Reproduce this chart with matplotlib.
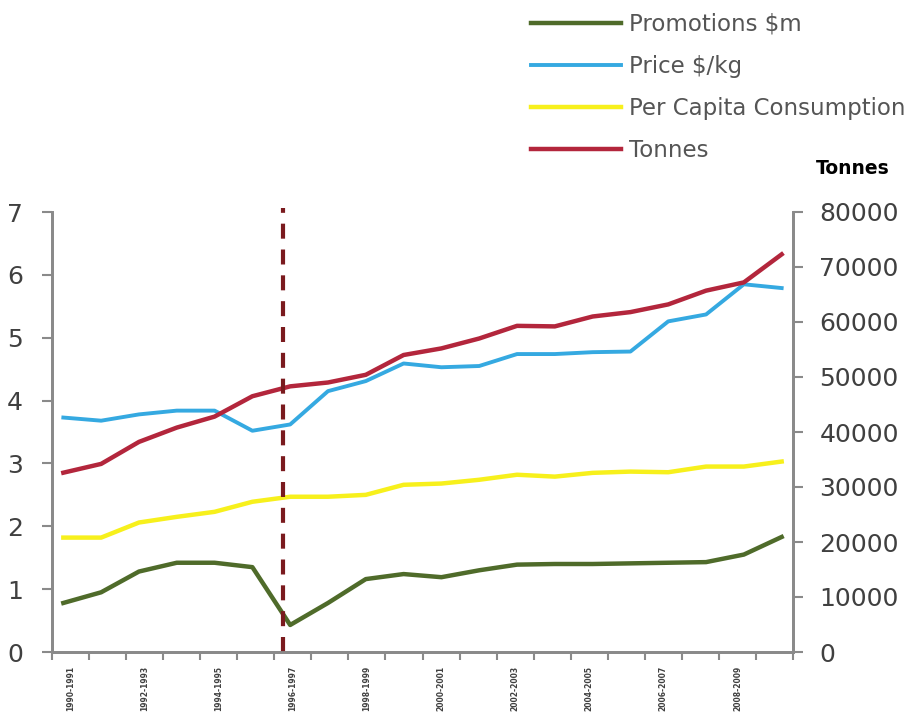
import numpy as np
import matplotlib
matplotlib.use("Agg")
import matplotlib.pyplot as plt

plt.rcParams['font.family'] = ['DejaVu Sans']

# season labels (every second season is labelled on the axis)
seasons = ["1990-1991", "1991-1992", "1992-1993", "1993-1994", "1994-1995",
           "1995-1996", "1996-1997", "1997-1998", "1998-1999", "1999-2000",
           "2000-2001", "2001-2002", "2002-2003", "2003-2004", "2004-2005",
           "2005-2006", "2006-2007", "2007-2008", "2008-2009", "2009-2010"]

promotions = [0.78, 0.95, 1.28, 1.42, 1.42, 1.35, 0.43, 0.78, 1.16, 1.24,
              1.19, 1.30, 1.39, 1.40, 1.40, 1.41, 1.42, 1.43, 1.55, 1.83]
price = [3.73, 3.68, 3.78, 3.84, 3.84, 3.52, 3.62, 4.15, 4.31, 4.59,
         4.53, 4.55, 4.74, 4.74, 4.77, 4.78, 5.26, 5.37, 5.85, 5.79]
per_capita = [1.82, 1.82, 2.06, 2.15, 2.23, 2.39, 2.47, 2.47, 2.50, 2.66,
              2.68, 2.74, 2.82, 2.79, 2.85, 2.87, 2.86, 2.95, 2.95, 3.03]
tonnes = [32600, 34200, 38200, 40800, 42800, 46500, 48300, 49000, 50400, 54000,
          55200, 57000, 59300, 59200, 61000, 61800, 63200, 65700, 67200, 72300]

left_ticks = [0, 1, 2, 3, 4, 5, 6, 7]
right_ticks = [0, 10000, 20000, 30000, 40000, 50000, 60000, 70000, 80000]
event_pos = 5.8   # dashed marker between 1995-96 and 1996-97

c_green = "#4f6b2a"
c_blue = "#35a9e1"
c_yellow = "#f7f01c"
c_red = "#b3263c"
c_dash = "#7a1a1e"
c_axis = "#8a8a8a"
c_text = "#404040"

fig = plt.figure(figsize=(9.07, 7.15), dpi=100)
ax = fig.add_axes([52/907, 1-652/715, (793-52)/907, (652-212)/715])
ax2 = ax.twinx()

x = np.arange(len(seasons))
l1, = ax.plot(x, promotions, color=c_green, lw=3.2, label="Promotions $m")
l2, = ax.plot(x, price, color=c_blue, lw=2.8, label="Price $/kg")
l3, = ax.plot(x, per_capita, color=c_yellow, lw=3.2, label="Per Capita Consumption")
l4, = ax2.plot(x, tonnes, color=c_red, lw=3.2, label="Tonnes")
ax2.axvline(event_pos, ymin=0, ymax=1.01, color=c_dash, lw=3, dashes=(3.6, 2.6), clip_on=False)

xmin, xmax = -0.3, len(seasons) - 1 + 0.3
ax.set_xlim(xmin, xmax)
ax.set_ylim(0, 7)
ax2.set_ylim(0, 80000)

# tick marks at category boundaries, labels on every second category
bounds = np.linspace(xmin, xmax, 21)
ax.set_xticks(bounds)
ax.set_xticklabels([])
mids = (bounds[:-1] + bounds[1:]) / 2
ax.set_xticks(mids[::2], minor=True)
ax.set_xticklabels(seasons[::2], minor=True, rotation=90, fontsize=5.5,
                   fontweight='bold', color=c_text)
ax.tick_params(axis='x', which='major', length=6, width=1.5, color=c_axis)
ax.tick_params(axis='x', which='minor', length=0, pad=10)

ax.set_yticks(left_ticks)
ax.set_yticklabels([str(v) for v in left_ticks])
ax2.set_yticks(right_ticks)
ax2.set_yticklabels([str(v) for v in right_ticks])
ax.tick_params(axis='y', length=7, width=1.5, color=c_axis, labelsize=18,
               labelcolor=c_text, pad=14)
ax2.tick_params(axis='y', length=7, width=1.5, color=c_axis, labelsize=18,
                labelcolor=c_text, pad=12)

for a in (ax, ax2):
    a.spines['top'].set_visible(False)
    for s in ('left', 'right', 'bottom'):
        a.spines[s].set_color(c_axis)
        a.spines[s].set_linewidth(2)

fig.text(853/907, 1-168/715, "Tonnes", ha='center', va='center',
         fontsize=13.5, fontweight='bold', color='black')

leg = fig.legend(handles=[l1, l2, l3, l4], loc='upper left',
                 bbox_to_anchor=(522/907, 0.995), frameon=False,
                 fontsize=16.5, handlelength=3.9, handletextpad=0.35,
                 labelspacing=0.84, borderaxespad=0)
for t in leg.get_texts():
    t.set_color("#555555")

fig.savefig("out.png", dpi=100)
